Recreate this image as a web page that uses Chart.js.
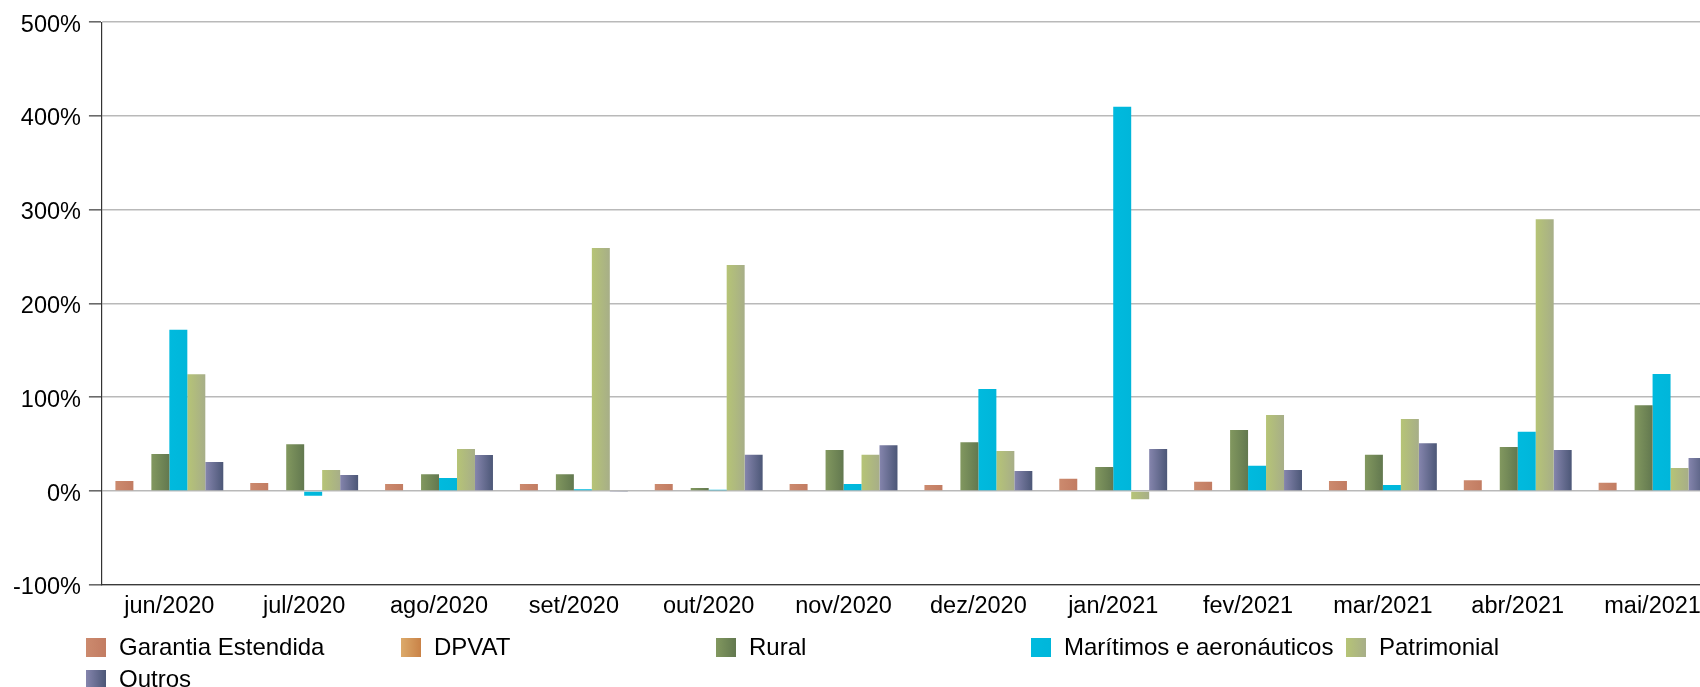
<!DOCTYPE html>
<html lang="pt-BR">
<head>
<meta charset="utf-8">
<script src="https://cdn.jsdelivr.net/npm/chart.js@4.4.1/dist/chart.umd.min.js"></script>
<style>
  html, body { margin: 0; padding: 0; background: #fff; overflow: hidden; width: 1700px; height: 687px; }
  .chart__box { position: absolute; left: 0; top: 0; width: 1720px; height: 687px; }
  .legend { position: absolute; left: 0; top: 0; font-family: "Liberation Sans", Arial, sans-serif; font-size: 24px; color: #000; }
  .legend__item { position: absolute; display: flex; align-items: center; height: 20px; white-space: nowrap; }
  .legend__box { width: 20px; height: 19px; margin-right: 13px; }
</style>
</head>
<body>
<div class="chart__box"><canvas id="growthChart"></canvas></div>
<div class="legend" id="legend"></div>
<script>
const categories = ["jun/2020", "jul/2020", "ago/2020", "set/2020", "out/2020", "nov/2020",
  "dez/2020", "jan/2021", "fev/2021", "mar/2021", "abr/2021", "mai/2021"];

const garantia = [10.6, 8.5, 7.4, 7.4, 7.4, 7.4, 6.5, 13, 9.8, 10.7, 11.6, 8.7];
const dpvat = [0, 0, 0, 0, 0, 0, 0, 0, 0, 0, 0, 0];
const rural = [39.4, 50, 18, 18, 3.3, 43.7, 52, 25.6, 65, 38.6, 47, 91.5];
const maritimos = [172, -5, 14, 2, 1.4, 7.4, 108.8, 409.8, 27, 6.5, 63.3, 124.7];
const patrimonial = [124.5, 22.3, 44.7, 259, 241, 38.6, 42.8, -8.8, 81, 76.7, 289.8, 24.6];
const outros = [30.9, 17, 38.3, -0.5, 38.6, 48.8, 21.4, 44.7, 22.3, 51, 43.7, 35.2];

const yTicks = [-100, 0, 100, 200, 300, 400, 500];

const FONT = "'Liberation Sans', Arial, sans-serif";

// left -> right colour of each bar (they are shaded like the original)
const series = [
  { label: "Garantia Estendida", data: garantia, colors: ["#cc8a6e", "#c27c62"] },
  { label: "DPVAT", data: dpvat, colors: ["#dcaa6a", "#c98247"] },
  { label: "Rural", data: rural, colors: ["#82985f", "#62784f"] },
  { label: "Marítimos e aeronáuticos", data: maritimos, colors: ["#00bade", "#00b6da"] },
  { label: "Patrimonial", data: patrimonial, colors: ["#b6c476", "#a7ae88"] },
  { label: "Outros", data: outros, colors: ["#8585ad", "#4c5777"] },
];

const barFill = (colors) => (ctx) => {
  const el = ctx.element;
  if (!el || !isFinite(el.x) || !el.width) return colors[0];
  const g = ctx.chart.ctx.createLinearGradient(el.x - el.width / 2, 0, el.x + el.width / 2, 0);
  g.addColorStop(0, colors[0]);
  g.addColorStop(1, colors[1]);
  return g;
};

const data = {
  labels: categories,
  datasets: series.map((s) => ({
    label: s.label,
    data: s.data,
    backgroundColor: barFill(s.colors),
    borderWidth: 0,
    categoryPercentage: 0.8,
    barPercentage: 1.0,
  })),
};

const config = {
  type: "bar",
  data: data,
  options: {
    responsive: true,
    maintainAspectRatio: false,
    animation: false,
    layout: { padding: { left: 5, top: 20, right: 0, bottom: 58 } },
    plugins: {
      legend: { display: false },
      tooltip: { enabled: false },
    },
    scales: {
      x: {
        grid: { display: false, drawTicks: false },
        border: { display: true, color: "#3a3a3a", width: 1.2 },
        ticks: { color: "#000", font: { family: FONT, size: 23.5 }, padding: 8, maxRotation: 0, autoSkip: false },
      },
      y: {
        min: -100,
        max: 500,
        afterBuildTicks: (axis) => { axis.ticks = yTicks.map((v) => ({ value: v })); },
        grid: { color: "#b9b9b9", lineWidth: 1.6, tickLength: 13, tickColor: "#6a6a6a", tickWidth: 1.6 },
        border: { display: true, color: "#333", width: 1.2 },
        ticks: {
          color: "#000",
          font: { family: FONT, size: 23.5 },
          padding: 8,
          labelOffset: 3,
          callback: (v) => v + "%",
        },
      },
    },
  },
};

const growthChart = new Chart(document.getElementById("growthChart"), config);
// second pass so the shaded fills know where each bar sits
growthChart.update("none");

// legend with fixed columns, like the original
const legendBox = document.getElementById("legend");
series.forEach((s, i) => {
  const col = i % 5;
  const row = Math.floor(i / 5);
  const item = document.createElement("div");
  item.className = "legend__item";
  item.style.left = 86 + col * 315 + "px";
  item.style.top = 637 + row * 32 + "px";
  item.innerHTML = `<span class="legend__box" style="background: linear-gradient(to right, ${s.colors[0]}, ${s.colors[1]})"></span><span>${s.label}</span>`;
  legendBox.appendChild(item);
});
</script>
</body>
</html>
